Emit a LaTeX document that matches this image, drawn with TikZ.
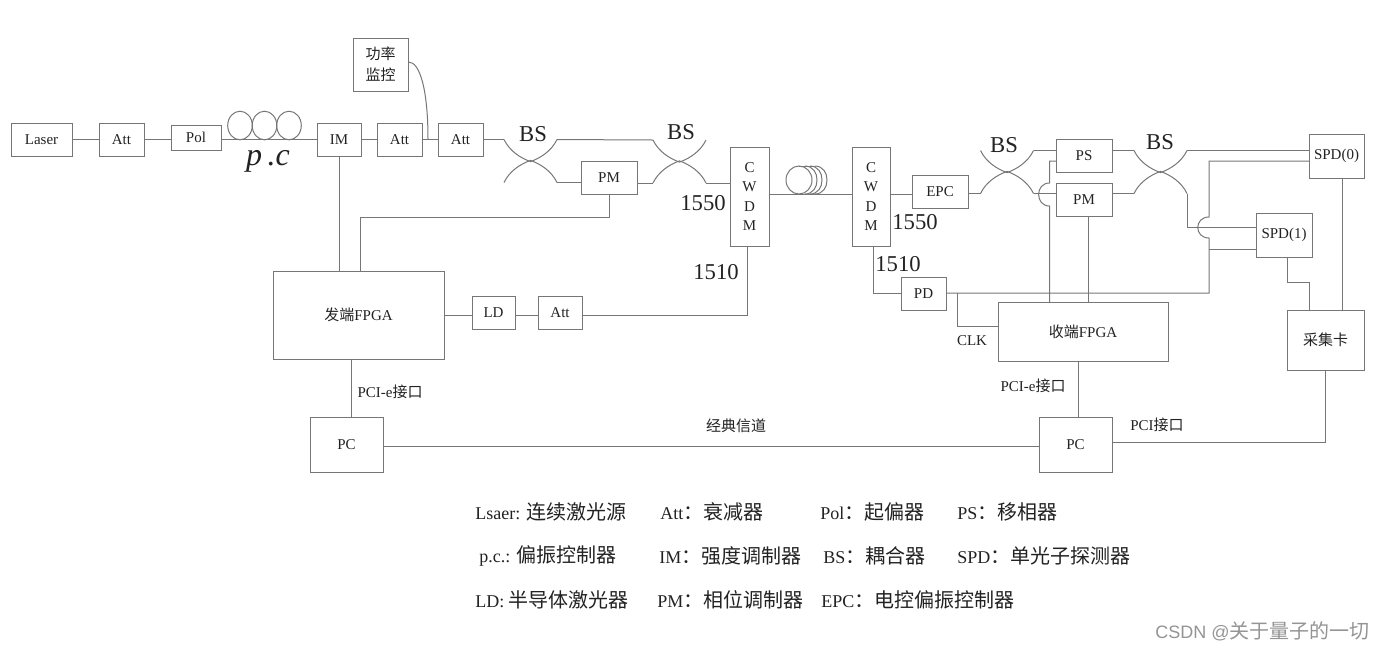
\documentclass[tikz,border=0pt]{standalone}
\usepackage{fontspec}
\usetikzlibrary{calc}
\setmainfont{Liberation Serif}
\newfontfamily\cjk{Noto Sans CJK SC}
\newfontfamily\wmfont{Liberation Sans}
\newcommand{\zh}[1]{{\cjk #1}}
\newcommand{\zhl}[1]{{\fontsize{15pt}{16pt}\selectfont\cjk #1}}
\definecolor{ln}{HTML}{767676}
\definecolor{tx}{HTML}{222222}
\tikzset{
  wire/.style={draw=ln,line width=0.75pt,line join=miter},
  boxnode/.style={draw=ln,line width=0.75pt,inner sep=0pt,text=tx,align=center,font=\fontsize{11.25pt}{13pt}\selectfont},
  lab/.style={text=tx,inner sep=0pt,font=\fontsize{11.25pt}{13pt}\selectfont},
  biglab/.style={text=tx,inner sep=0pt,font=\fontsize{17pt}{19pt}\selectfont},
  leg/.style={text=tx,inner sep=0pt,anchor=west,font=\fontsize{13.5pt}{16pt}\selectfont},
  wm/.style={text=black!42,inner sep=0pt,anchor=west,font=\fontsize{13.5pt}{16pt}\selectfont}
}
\newcommand{\bx}[6]{\node[boxnode,minimum width={(#4-#2)*0.75pt},minimum height={(#5-#3)*0.75pt}] (#1) at ({(#2+#4)/2},{(#3+#5)/2}) {#6};}
% coupler: name, cx, cy
\newcommand{\coupler}[3]{%
  \coordinate (#1-tl) at ({#2-26.5},{#3-21.5});
  \coordinate (#1-tr) at ({#2+26.5},{#3-21.5});
  \coordinate (#1-bl) at ({#2-26.5},{#3+21.5});
  \coordinate (#1-br) at ({#2+26.5},{#3+21.5});
  \draw[wire] (#1-tl) .. controls ({#2-21},{#3-10}) and ({#2-10},{#3-3}) .. ({#2},{#3+0.6}) .. controls ({#2+10},{#3-3}) and ({#2+21},{#3-10}) .. (#1-tr);
  \draw[wire] (#1-bl) .. controls ({#2-21},{#3+10}) and ({#2-10},{#3+3}) .. ({#2},{#3-0.6}) .. controls ({#2+10},{#3+3}) and ({#2+21},{#3+10}) .. (#1-br);
}
\begin{document}
\begin{tikzpicture}[x=0.75pt,y=-0.75pt]
\useasboundingbox (0,0) rectangle (1380,651);
% boxes
\bx{laser}{11}{123}{72}{156}{Laser}
\bx{att1}{99}{123}{144}{156}{Att}
\bx{pol}{171}{125}{221}{150}{Pol}
\bx{im}{317}{123}{361}{156}{IM}
\bx{att2}{377}{123}{422}{156}{Att}
\bx{att3}{438}{123}{483}{156}{Att}
\bx{mon}{353}{38}{408}{91}{\zh{功率}\\[3pt]\zh{监控}}
\bx{pm1}{581}{161}{637}{194}{PM}
\bx{cw1}{730}{147}{769}{246}{C\\[1.5pt]W\\[1.5pt]D\\[1.5pt]M}
\bx{cw2}{852}{147}{890}{246}{C\\[1.5pt]W\\[1.5pt]D\\[1.5pt]M}
\bx{epc}{912}{175}{968}{208}{EPC}
\bx{ps}{1056}{139}{1112}{172}{PS}
\bx{pm2}{1056}{183}{1112}{216}{PM}
\bx{spd0}{1309}{134}{1364}{178}{SPD(0)}
\bx{spd1}{1256}{213}{1312}{257}{SPD(1)}
\bx{txf}{273}{271}{444}{359}{\zh{发端}FPGA}
\bx{ld}{472}{296}{515}{329}{LD}
\bx{att4}{538}{296}{582}{329}{Att}
\bx{pd}{901}{277}{946}{310}{PD}
\bx{rxf}{998}{302}{1168}{361}{\zh{收端}FPGA}
\bx{card}{1287}{310}{1364}{370}{\zh{采集卡}}
\bx{pc1}{310}{417}{383}{472}{PC}
\bx{pc2}{1039}{417}{1112}{472}{PC}
% couplers
\coupler{b1}{530.5}{161}
\coupler{b2}{679.5}{161.5}
\coupler{b3}{1007}{172}
\coupler{b4}{1160.5}{172}
% named ports
\coordinate (fiber) at (800,194);
\coordinate (tap) at (428,139.5);
\coordinate (txf-im) at (339,271);
\coordinate (txf-pm) at (360,271);
\coordinate (cw1-p) at (747,246);
\coordinate (cw2-p) at (873,246);
\coordinate (rxf-ps) at (1049.5,302);
\coordinate (rxf-pm) at (1088,302);
\coordinate (spd1-s) at (1287,257);
\coordinate (card-a) at (1309,310);
\coordinate (spd0-s) at (1342,178);
\coordinate (pcline) at (700,446.5);
\coordinate (pc2tap) at (1112,442);
\coordinate (ps-w) at (1056,161);
\coordinate (spd0-w) at (1309,161);
\coordinate (spd1-w) at (1256,249);
\coordinate (pd-e) at (946,293);
\coordinate (rxf-w) at (998,326);
\coordinate (clkj) at (957,293);
\coordinate (pc1-n) at (351,417);
\coordinate (txf-s) at (351,359);
\coordinate (rxf-s) at (1078,361);
\coordinate (pc2-n) at (1078,417);
\coordinate (card-s) at (1325,370);
% top chain
\draw[wire] (laser.east) -- (att1.west);
\draw[wire] (att1.east) -- (att1.east -| pol.west);
\draw[wire] (pol.east |- im.west) -- (im.west);
\draw[wire] (im.east) -- (att2.west);
\draw[wire] (att2.east) -- (att3.west);
\draw[wire] (mon.east |- 0,62) .. controls (420,62) and (428,90) .. (tap);
\draw[wire] (im.south -| txf-im) -- (txf-im);
\draw[wire] (att3.east) -- (b1-tl);
\draw[wire] (b1-tr) -- (b2-tl);
\draw[wire] (b1-br) -- (b1-br -| pm1.west);
\draw[wire] (pm1.east |- b2-bl) -- (b2-bl);
\draw[wire] (b2-br) -- (b2-br -| cw1.west);
\draw[wire] (pm1.south) |- ($(txf-pm)+(0,-54)$) -- (txf-pm);
\draw[wire] (cw1-p) |- (att4.east |- txf);
\draw[wire] (txf.east) -- (ld.west |- txf);
\draw[wire] (ld.east |- txf) -- (att4.west |- txf);
% fibre and coil
\draw[wire] (cw1.east |- fiber) -- (cw2.west |- fiber);
\draw[wire] (cw2.east |- fiber) -- (epc.west |- fiber);
\draw[wire] (799,180) ellipse [x radius=13,y radius=14];
\foreach \dx in {6,11,16} {
  \draw[wire] (799+\dx,166) .. controls (799+\dx+16,166) and (799+\dx+16,194) .. (799+\dx,194);
  \draw[wire] (799+\dx,166) -- (799,166);
}
% polarization controller loops
\draw[wire] (240,125.5) ellipse [x radius=12.3,y radius=14.3];
\draw[wire] (264.5,125.5) ellipse [x radius=12.3,y radius=14.3];
\draw[wire] (289,125.5) ellipse [x radius=12.3,y radius=14.3];
% receiver
\draw[wire] (cw2-p) |- (pd.west |- pd-e);
\draw[wire] (epc.east |- b3-bl) -- (b3-bl);
\draw[wire] (b3-tr) -- (b3-tr -| ps.west);
\draw[wire] (b3-br) -- (b3-br -| pm2.west);
\draw[wire] (ps.east |- b4-tl) -- (b4-tl);
\draw[wire] (pm2.east |- b4-bl) -- (b4-bl);
\draw[wire] (b4-tr) -- (b4-tr -| spd0.west);
\draw[wire] (b4-br) |- (spd1.west |- 0,227);
\draw[wire] (ps-w) -- (1049.5,161) -- (1049.5,183) .. controls (1035,183) and (1035,206) .. (1049.5,206) -- (rxf-ps);
\draw[wire] (pm2.south -| rxf-pm) -- (rxf-pm);
\draw[wire] (spd0-w) -- (1209,161) -- (1209,217) .. controls (1194,217) and (1194,238) .. (1209,238) -- (1209,293) -- (pd-e);
\draw[wire] (spd1-w) -- (1209,249);
\draw[wire] (clkj) |- (rxf-w);
\draw[wire] (spd1-s) |- (1309,282) -- (card-a);
\draw[wire] (spd0-s) -- (spd0-s |- card.north);
% bottom
\draw[wire] (txf-s) -- (pc1-n);
\draw[wire] (rxf-s) -- (pc2-n);
\draw[wire] (pc1.east |- pcline) -- (pc2.west |- pcline);
\draw[wire] (pc2tap) -| (card-s);
% labels
\node[text=tx,inner sep=0pt,font=\fontsize{24pt}{26pt}\selectfont\itshape] (pclab) at (268,161) {p\,.c};
\node[biglab] (bs1) at (533,134) {BS};
\node[biglab] (bs2) at (681,132) {BS};
\node[biglab] (bs3) at (1004,145) {BS};
\node[biglab] (bs4) at (1160,142) {BS};
\node[biglab] (l1550a) at (703,203) {1550};
\node[biglab] (l1510a) at (716,272) {1510};
\node[biglab] (l1550b) at (915,222) {1550};
\node[biglab] (l1510b) at (898,264) {1510};
\node[lab] (clk) at (972,341) {CLK};
\node[lab] (pcie1) at (390,392) {PCI-e\zh{接口}};
\node[lab] (pcie2) at (1033,386) {PCI-e\zh{接口}};
\node[lab] (pcilab) at (1157,425) {PCI\zh{接口}};
\node[lab] (classic) at (736,426) {\zh{经典信道}};
% legend
\node[leg] (lg1) at (475,512) {Lsaer: \zhl{连续激光源}};
\node[leg] (lg2) at (660,512) {Att\zhl{：衰减器}};
\node[leg] (lg3) at (820,512) {Pol\zhl{：起偏器}};
\node[leg] (lg4) at (957,512) {PS\zhl{：移相器}};
\node[leg] (lg5) at (479,556) {p.c.: \zhl{偏振控制器}};
\node[leg] (lg6) at (659,556) {IM\zhl{：强度调制器}};
\node[leg] (lg7) at (823,556) {BS\zhl{：耦合器}};
\node[leg] (lg8) at (957,556) {SPD\zhl{：单光子探测器}};
\node[leg] (lg9) at (475,600) {LD: \zhl{半导体激光器}};
\node[leg] (lg10) at (657,600) {PM\zhl{：相位调制器}};
\node[leg] (lg11) at (821,600) {EPC\zhl{：电控偏振控制器}};
\node[wm] (wmk) at (1155,631) {{\wmfont CSDN @}\zhl{关于量子的一切}};
\end{tikzpicture}
\end{document}
